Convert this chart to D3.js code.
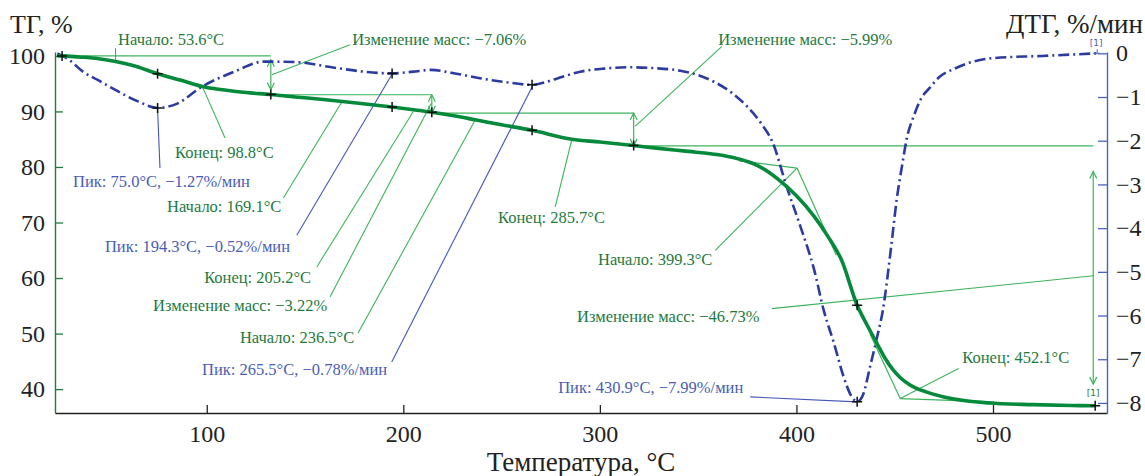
<!DOCTYPE html>
<html>
<head>
<meta charset="utf-8">
<script src="https://cdn.jsdelivr.net/npm/d3@7"></script>
<style>
  body { margin: 0; background: #fff; }
  svg { display: block; font-family: "Liberation Serif", "Times New Roman", serif; }
</style>
</head>
<body>
<script>
// Thermogram values: temperature (°C) and mass (%)

var tgTemp = [24, 26.4, 35, 45, 53.6, 62, 75, 87, 98.8, 110, 120, 132.6, 145, 158, 169.1, 182,
  194.3, 205.2, 214.5, 225, 236.5, 250, 265.5, 285.7, 300, 317.2, 330, 345, 358, 370, 380,
  392, 400, 409, 416, 423, 430.9, 436, 441, 445, 449.3, 453, 458, 466, 475, 486, 498, 520, 540, 552];
var tgMass = [100, 100, 99.8, 99.5, 99.0, 98.3, 96.8, 95.6, 94.4, 93.8, 93.4, 93.05, 92.6, 92.2, 91.8, 91.3,
  90.8, 90.3, 89.85, 89.25, 88.5, 87.6, 86.6, 85.0, 84.5, 83.85, 83.35, 82.8, 82.3, 81.5, 80.3,
  77.4, 74.8, 71.1, 67.5, 63.2, 55.1, 51.5, 48.2, 45.6, 43.4, 42.0, 40.7, 39.5, 38.6, 37.9, 37.5, 37.2, 37.05, 37.0];

// Derivative curve (%/мин)
var dtgTemp = [24, 30, 37, 45, 54, 65, 75, 85, 97, 114, 129, 145, 165, 180, 194.3, 205, 214, 225,
  239, 252, 265.5, 278, 290, 302, 315, 328, 341, 350, 358, 367, 375, 382, 388, 395, 402, 409,
  414, 419, 424, 428, 430.9, 434, 437.5, 441, 444, 448, 451, 454, 456, 460, 463, 468, 473,
  480, 487, 500, 525, 553];
var dtgRate = [0, -0.15, -0.42, -0.62, -0.85, -1.1, -1.25, -1.15, -0.78, -0.42, -0.19, -0.2, -0.33,
  -0.42, -0.46, -0.42, -0.38, -0.45, -0.57, -0.66, -0.72, -0.58, -0.42, -0.35, -0.32, -0.34,
  -0.40, -0.5, -0.65, -0.9, -1.22, -1.6, -2.05, -3.05, -3.96, -4.95, -5.9, -6.62, -7.4, -7.85,
  -7.97, -7.8, -7.16, -6.5, -5.87, -4.5, -3.35, -2.5, -1.98, -1.4, -1.07, -0.78, -0.53, -0.36,
  -0.23, -0.11, -0.06, 0];

// "+" markers put on the curves by the software
var tgMarkTemp = [26.4, 75, 132.6, 194.3, 214.5, 265.5, 317.2, 430.9, 552];
var tgMarkMass = [100, 96.8, 93.05, 90.8, 89.85, 86.6, 83.85, 55.1, 37.0];
var dtgMarkTemp = [75, 194.3, 265.5, 430.9];
var dtgMarkRate = [-1.25, -0.46, -0.72, -7.97];

// ticks
var xTicks = [100, 200, 300, 400, 500];
var tgTicks = [40, 50, 60, 70, 80, 90, 100];
var dtgTicks = [0, -1, -2, -3, -4, -5, -6, -7, -8];

// step boundaries (°C) and mass levels (%) of the four mass-loss steps
var stepStart = [26.4, 132.6, 214.5, 317.2];
var stepEnd = [132.6, 214.5, 317.2, 551];
var stepLevel = [100, 93.0, 89.7, 83.8];
var arrowTop = [99.3, 93.0, 89.7, 79.2];
var arrowBottom = [93.9, 89.7, 83.8, 40.9];

// annotation texts, with label place [°C, %] and leader line [°C, %, °C, %]
var labelText = [
  'Начало: 53.6°C', 'Изменение масс: −7.06%', 'Конец: 98.8°C', 'Пик: 75.0°C, −1.27%/мин',
  'Начало: 169.1°C', 'Пик: 194.3°C, −0.52%/мин', 'Конец: 205.2°C', 'Изменение масс: −3.22%',
  'Начало: 236.5°C', 'Пик: 265.5°C, −0.78%/мин', 'Конец: 285.7°C', 'Изменение масс: −5.99%',
  'Начало: 399.3°C', 'Изменение масс: −46.73%', 'Пик: 430.9°C, −7.99%/мин', 'Конец: 452.1°C'
];
var labelKind = ['g', 'g', 'g', 'b', 'g', 'b', 'g', 'g', 'g', 'b', 'g', 'g', 'g', 'g', 'b', 'g'];
var labelAt = [
  [54.9, 102.0], [174.0, 102.0], [83.9, 81.6], [32.0, 76.4],
  [79.8, 71.9], [48.2, 64.7], [98.7, 59.1], [72.7, 54.1],
  [116.9, 48.3], [97.6, 42.5], [248.2, 69.9], [360.2, 102.0],
  [299.1, 62.3], [288.4, 52.1], [278.8, 39.3], [484.4, 44.7]
];
var leader = [
  [53.6, 101.4, 53.6, 98.9], [133.1, 96.6, 172.9, 102.0], [98.1, 94.2, 109.3, 85.2], [75.0, 90.3, 76.2, 79.8],
  [168.7, 91.7, 139.0, 74.4], [194.1, 96.6, 145.8, 67.7], [205.1, 90.0, 156.0, 62.0], [214.1, 91.4, 162.7, 56.6],
  [236.5, 88.4, 177.0, 50.1], [266.1, 94.8, 194.1, 44.9], [285.7, 84.9, 277.3, 72.8], [317.9, 87.3, 362.1, 101.7],
  [358.7, 65.0, 400.3, 79.8], [387.5, 54.5, 551.0, 60.4], [376.5, 38.6, 430.8, 37.7], [452.8, 38.3, 482.5, 43.7]
];

// tangent construction lines for onset / end of the big step
var tangent = [
  [371.0, 81.1, 400.3, 79.8], [400.3, 79.8, 420.3, 64.1],
  [437.5, 49.9, 452.8, 38.3], [452.8, 38.3, 500.2, 37.7]
];

var width = 1145, height = 476;
var plotLeft = 55, plotRight = 1107, plotTop = 52, plotBottom = 413;
var serif = '"Liberation Serif", "Times New Roman", serif';

var green = '#1e7a3e', lineGreen = '#3db45c', curveGreen = '#058a3c',
    blue = '#2b3ba0', textBlue = '#4a5db5', axisBlue = '#4a62c4';

var x = d3.scaleLinear().domain([22.8, 558]).range([plotLeft, plotRight]);
var yTG = d3.scaleLinear().domain([35.7, 100.7]).range([plotBottom, plotTop]);
var yDTG = d3.scaleLinear().domain([-8.23, 0.03]).range([plotBottom, plotTop]);

var svg = d3.select('body').append('svg')
  .attr('width', width)
  .attr('height', height);

var defs = svg.append('defs');
defs.append('marker')
  .attr('id', 'head')
  .attr('markerUnits', 'userSpaceOnUse')
  .attr('markerWidth', 16).attr('markerHeight', 16)
  .attr('viewBox', '-8 -8 16 16')
  .attr('refX', 0).attr('refY', 0)
  .attr('orient', 'auto-start-reverse')
  .append('path')
  .attr('d', 'M-7,-3.5L0,0L-7,3.5')
  .attr('fill', 'none')
  .attr('stroke', lineGreen)
  .attr('stroke-width', 1.2);

// axes

function styleAxis(g, color) {
  g.attr('font-family', serif).attr('font-size', 24);
  g.select('.domain').attr('stroke', color).attr('stroke-width', 1.4);
  g.selectAll('.tick line').attr('stroke', color).attr('stroke-width', 1.3);
  g.selectAll('.tick text').attr('fill', '#222');
}

var gx = svg.append('g')
  .attr('transform', 'translate(0,' + plotBottom + ')')
  .call(d3.axisBottom(x).tickValues(xTicks).tickSize(-8).tickPadding(12).tickSizeOuter(0));
styleAxis(gx, '#222');

var gl = svg.append('g')
  .attr('transform', 'translate(' + plotLeft + ',0)')
  .call(d3.axisLeft(yTG).tickValues(tgTicks).tickSize(-8).tickPadding(10).tickSizeOuter(0));
styleAxis(gl, green);

var gr = svg.append('g')
  .attr('transform', 'translate(' + plotRight + ',0)')
  .call(d3.axisRight(yDTG).tickValues(dtgTicks).tickSize(-9).tickPadding(9).tickSizeOuter(0)
    .tickFormat(function(d) { return d < 0 ? '−' + (-d) : d; }));
styleAxis(gr, axisBlue);

svg.append('text').attr('x', 10).attr('y', 33)
  .attr('fill', '#222').style('font-size', '26px').text('ТГ, %');
svg.append('text').attr('x', 1143).attr('y', 33).attr('text-anchor', 'end')
  .attr('fill', '#222').style('font-size', '27px').text('ДТГ, %/мин');
svg.append('text').attr('x', 581).attr('y', 471).attr('text-anchor', 'middle')
  .attr('fill', '#222').style('font-size', '27px').text('Температура, °C');

// step construction: horizontal level lines and mass change arrows

var steps = d3.range(stepStart.length);
svg.append('g').selectAll('line').data(steps).enter().append('line')
  .attr('x1', function(i) { return x(stepStart[i]); })
  .attr('x2', function(i) { return x(stepEnd[i]); })
  .attr('y1', function(i) { return yTG(stepLevel[i]); })
  .attr('y2', function(i) { return yTG(stepLevel[i]); })
  .attr('stroke', lineGreen).attr('stroke-width', 1.2);

svg.append('g').selectAll('line').data(steps).enter().append('line')
  .attr('x1', function(i) { return x(stepEnd[i]); })
  .attr('x2', function(i) { return x(stepEnd[i]); })
  .attr('y1', function(i) { return yTG(arrowTop[i]); })
  .attr('y2', function(i) { return yTG(arrowBottom[i]); })
  .attr('stroke', lineGreen).attr('stroke-width', 1.2)
  .attr('marker-start', 'url(#head)')
  .attr('marker-end', 'url(#head)');

svg.append('g').selectAll('line').data(tangent).enter().append('line')
  .attr('x1', function(d) { return x(d[0]); })
  .attr('y1', function(d) { return yTG(d[1]); })
  .attr('x2', function(d) { return x(d[2]); })
  .attr('y2', function(d) { return yTG(d[3]); })
  .attr('stroke', lineGreen).attr('stroke-width', 1.2);

// leader lines
svg.append('g').selectAll('line').data(leader).enter().append('line')
  .attr('x1', function(d) { return x(d[0]); })
  .attr('y1', function(d) { return yTG(d[1]); })
  .attr('x2', function(d) { return x(d[2]); })
  .attr('y2', function(d) { return yTG(d[3]); })
  .attr('stroke', function(d, i) { return labelKind[i] == 'b' ? '#4656b8' : lineGreen; })
  .attr('stroke-width', 1.1);

// curves

var tgLine = d3.line()
  .x(function(i) { return x(tgTemp[i]); })
  .y(function(i) { return yTG(tgMass[i]); })
  .curve(d3.curveMonotoneX);

var dtgLine = d3.line()
  .x(function(i) { return x(dtgTemp[i]); })
  .y(function(i) { return yDTG(dtgRate[i]); })
  .curve(d3.curveMonotoneX);

svg.append('path')
  .attr('d', dtgLine(d3.range(dtgTemp.length)))
  .attr('fill', 'none')
  .attr('stroke', blue)
  .attr('stroke-width', 2.6)
  .attr('stroke-dasharray', '11,4,2,4');

svg.append('path')
  .attr('d', tgLine(d3.range(tgTemp.length)))
  .attr('fill', 'none')
  .attr('stroke', curveGreen)
  .attr('stroke-width', 3.6)
  .attr('stroke-linejoin', 'round');

// "+" markers
var cross = 'M-5,0H5M0,-5V5';
svg.append('g').selectAll('path').data(d3.range(tgMarkTemp.length)).enter().append('path')
  .attr('transform', function(i) { return 'translate(' + x(tgMarkTemp[i]) + ',' + yTG(tgMarkMass[i]) + ')'; })
  .attr('d', cross).attr('stroke', '#111').attr('stroke-width', 1.5);
svg.append('g').selectAll('path').data(d3.range(dtgMarkTemp.length)).enter().append('path')
  .attr('transform', function(i) { return 'translate(' + x(dtgMarkTemp[i]) + ',' + yDTG(dtgMarkRate[i]) + ')'; })
  .attr('d', cross).attr('stroke', '#111').attr('stroke-width', 1.5);

// small [1] end tags
var endX = x(553);
svg.append('path')
  .attr('d', 'M' + (endX - 4) + ',' + yDTG(0) + 'H' + (endX + 3) + 'M' + endX + ',' + yDTG(0) + 'V' + (yDTG(0) - 4))
  .attr('stroke', axisBlue).attr('stroke-width', 1);
svg.append('text').attr('x', endX - 1).attr('y', yDTG(0) - 7).attr('text-anchor', 'middle')
  .attr('fill', textBlue).style('font-size', '9px').style('font-family', 'DejaVu Sans, sans-serif').text('[1]');
svg.append('text').attr('x', x(551)).attr('y', yTG(38.8)).attr('text-anchor', 'middle')
  .attr('fill', green).style('font-size', '9px').style('font-family', 'DejaVu Sans, sans-serif').text('[1]');

// annotation labels
svg.append('g').selectAll('text').data(labelText).enter().append('text')
  .attr('x', function(d, i) { return x(labelAt[i][0]); })
  .attr('y', function(d, i) { return yTG(labelAt[i][1]); })
  .attr('fill', function(d, i) { return labelKind[i] == 'b' ? textBlue : green; })
  .style('font-size', '16.5px')
  .text(function(d) { return d; });
</script>
</body>
</html>
